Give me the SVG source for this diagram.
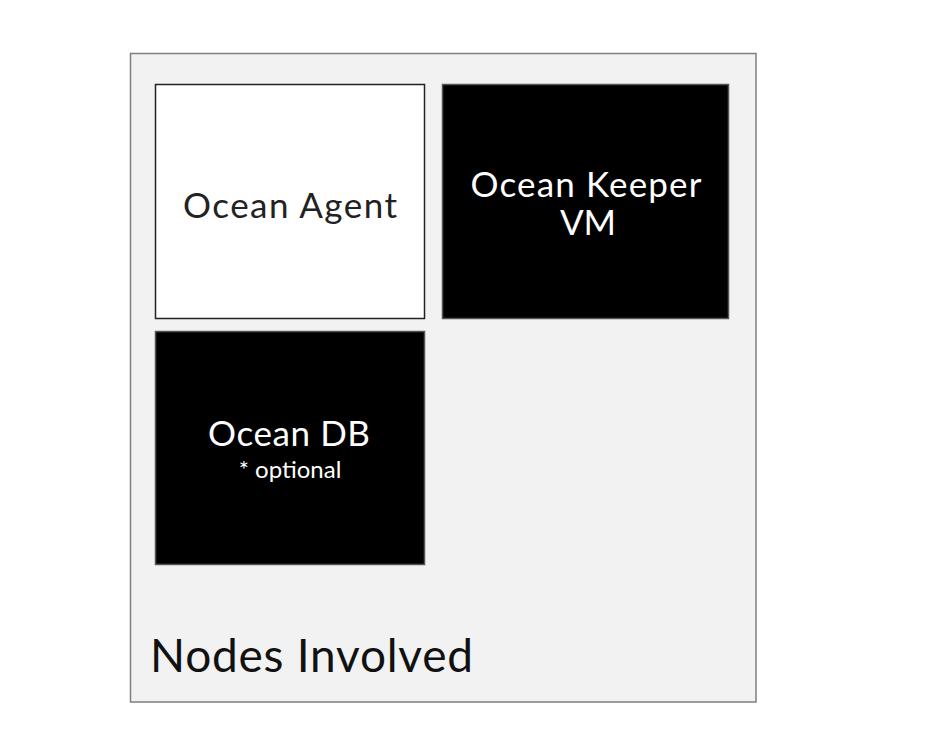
<svg xmlns="http://www.w3.org/2000/svg" width="950" height="738" viewBox="0 0 950 738">
<style>
.t{font-family:Lato,"Liberation Sans",sans-serif;text-anchor:middle}
.big{font-size:35px}
.dark rect{fill:#000;stroke:#555;stroke-width:1.5}
.dark text{fill:#fff}
</style>
<rect width="950" height="738" fill="#fff"/>
<g id="container">
<rect x="130.5" y="53.5" width="625.5" height="648.5" fill="#f2f2f2" stroke="#7f7f7f" stroke-width="1.5"/>
<text x="150" y="672" textLength="323" style="font-family:Lato,'Liberation Sans',sans-serif;font-size:46px" fill="#111">Nodes Involved</text>
</g>
<g id="ocean-agent">
<rect x="155.5" y="84.5" width="269" height="234" fill="#fff" stroke="#222" stroke-width="1.5"/>
<text class="t big" x="290" y="218" textLength="214" fill="#222">Ocean Agent</text>
</g>
<g id="ocean-keeper-vm" class="dark">
<rect x="442.5" y="84.5" width="286" height="234"/>
<text class="t big" x="586" y="197" textLength="231">Ocean Keeper</text>
<text class="t big" x="588" y="235">VM</text>
</g>
<g id="ocean-db" class="dark">
<rect x="155.5" y="331.5" width="269" height="233"/>
<text class="t big" x="289" y="446" textLength="162">Ocean DB</text>
<text class="t" x="290" y="478" style="font-size:24px">* optional</text>
</g>
<g id="connectors"></g>
</svg>
